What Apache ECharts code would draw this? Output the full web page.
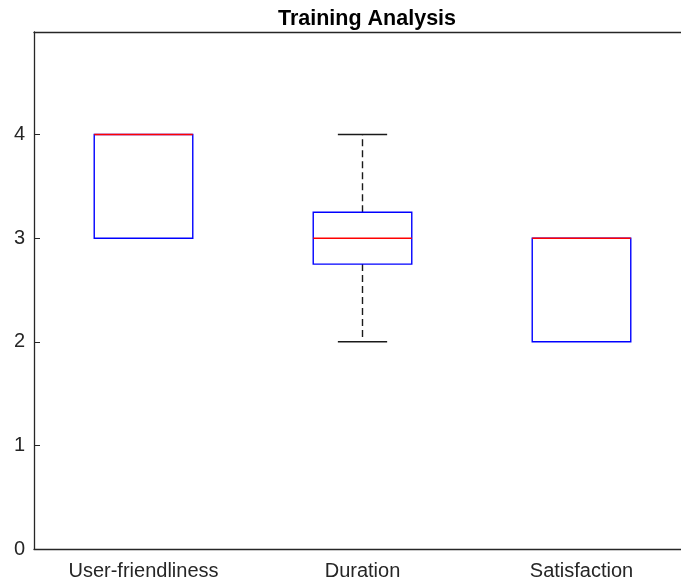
<!DOCTYPE html>
<html>
<head>
<meta charset="utf-8">
<script src="https://cdn.jsdelivr.net/npm/echarts@6/dist/echarts.min.js"></script>
<style>html,body{margin:0;padding:0;background:#fff;}#c{width:681px;height:585px;}</style>
</head>
<body>
<div id="c"></div>
<script>
var categories = ['User-friendliness', 'Duration', 'Satisfaction'];
var whiskerLow = [3, 2, 2];
var q1Values = [3, 2.75, 2];
var medianValues = [4, 3, 3];
var q3Values = [4, 3.25, 3];
var whiskerHigh = [4, 4, 3];
var yTicks = [0, 1, 2, 3, 4];

var boxData = categories.map(function (c, i) {
  return [i, whiskerLow[i], q1Values[i], medianValues[i], q3Values[i], whiskerHigh[i]];
});

var chart = echarts.init(document.getElementById('c'));
var axisColor = '#262626';
var font = 'Liberation Sans, Arial, Helvetica, sans-serif';

function renderItem(params, api) {
  var idx = api.value(0);
  var lo = api.value(1), q1 = api.value(2), med = api.value(3), q3 = api.value(4), hi = api.value(5);
  var band = api.size([1, 0])[0];
  var half = band * 0.225;
  var capHalf = band * 0.1125;
  var pLo = api.coord([idx, lo]);
  var pQ1 = api.coord([idx, q1]);
  var pMed = api.coord([idx, med]);
  var pQ3 = api.coord([idx, q3]);
  var pHi = api.coord([idx, hi]);
  var x = pMed[0];
  var children = [];
  var wStyle = { stroke: '#1a1a1a', lineWidth: 1.4, lineDash: [7, 4] };
  var cStyle = { stroke: '#1a1a1a', lineWidth: 1.4 };
  if (hi > q3) {
    children.push({ type: 'line', shape: { x1: x, y1: pQ3[1], x2: x, y2: pHi[1] }, style: wStyle });
    children.push({ type: 'line', shape: { x1: x - capHalf, y1: pHi[1], x2: x + capHalf, y2: pHi[1] }, style: cStyle });
  }
  if (lo < q1) {
    children.push({ type: 'line', shape: { x1: x, y1: pQ1[1], x2: x, y2: pLo[1] }, style: wStyle });
    children.push({ type: 'line', shape: { x1: x - capHalf, y1: pLo[1], x2: x + capHalf, y2: pLo[1] }, style: cStyle });
  }
  children.push({ type: 'rect', shape: { x: x - half, y: pQ3[1], width: 2 * half, height: pQ1[1] - pQ3[1] },
    style: { stroke: '#0000ff', fill: 'none', lineWidth: 1.4 } });
  children.push({ type: 'line', shape: { x1: x - half, y1: pMed[1], x2: x + half, y2: pMed[1] },
    style: { stroke: '#ff0000', lineWidth: 1.4 } });
  return { type: 'group', children: children };
}

chart.setOption({
  animation: false,
  backgroundColor: '#ffffff',
  title: {
    text: 'Training Analysis',
    left: 362, textAlign: 'center', top: 3,
    textStyle: { fontFamily: font, fontSize: 21.5, fontWeight: 'bold', color: '#000000' }
  },
  grid: { left: 34, width: 657, top: 32, height: 517, containLabel: false, outerBoundsMode: 'none' },
  xAxis: [{
    type: 'category', data: categories, position: 'bottom', boundaryGap: true,
    axisLine: { onZero: false, lineStyle: { color: axisColor, width: 1.3 } },
    axisTick: { inside: true, alignWithLabel: true, length: 6, lineStyle: { color: axisColor } },
    axisLabel: { fontFamily: font, fontSize: 20, color: axisColor, margin: 12 },
    splitLine: { show: false }
  }, {
    type: 'category', data: categories, position: 'top', boundaryGap: true,
    axisLine: { onZero: false, lineStyle: { color: axisColor, width: 1.3 } },
    axisTick: { inside: true, alignWithLabel: true, length: 6, lineStyle: { color: axisColor } },
    axisLabel: { show: false }, splitLine: { show: false }
  }],
  yAxis: [{
    type: 'value', min: 0, max: 4.99, interval: 1, position: 'left',
    axisLine: { show: true, onZero: false, lineStyle: { color: axisColor, width: 1.3 } },
    axisTick: { show: true, inside: true, length: 6, lineStyle: { color: axisColor } },
    axisLabel: { fontFamily: font, fontSize: 20, color: axisColor, margin: 9,
      showMaxLabel: false,
      formatter: function (v) { return yTicks.indexOf(Math.round(v)) >= 0 && Math.abs(v - Math.round(v)) < 1e-6 ? String(Math.round(v)) : ''; } },
    splitLine: { show: false }
  }, {
    type: 'value', min: 0, max: 4.99, interval: 1, position: 'right',
    axisLine: { show: true, onZero: false, lineStyle: { color: axisColor, width: 1.3 } },
    axisTick: { show: true, inside: true, length: 6, lineStyle: { color: axisColor } },
    axisLabel: { show: false }, splitLine: { show: false }
  }],
  series: [{
    type: 'custom',
    renderItem: renderItem,
    xAxisIndex: 0, yAxisIndex: 0,
    encode: { x: 0, y: [1, 2, 3, 4, 5] },
    data: boxData,
    clip: false
  }]
});
</script>
</body>
</html>
